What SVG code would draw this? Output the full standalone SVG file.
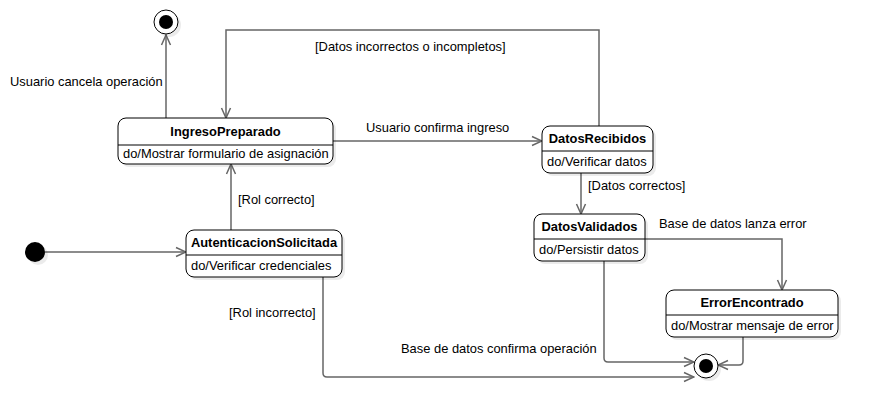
<svg xmlns="http://www.w3.org/2000/svg" width="878" height="419" viewBox="0 0 878 419">
<style>
text{font-family:"Liberation Sans",Arial,sans-serif;font-size:12.9px;fill:#000}
.t{font-weight:bold;text-anchor:middle}
.box{fill:#fff;stroke:#000;stroke-width:1}
.sh{fill:#000;fill-opacity:0.08;stroke:none}
.div{stroke:#000;stroke-width:1}
.c{fill:none;stroke:#666;stroke-width:1.5;marker-end:url(#a)}
</style>
<defs>
<marker id="a" markerUnits="userSpaceOnUse" markerWidth="12" markerHeight="12" viewBox="0 0 12 12" refX="11" refY="6" orient="auto">
<path d="M1,1.5 L11,6 L1,10.5" fill="none" stroke="#666" stroke-width="1.5"/>
</marker>
</defs>
<rect width="878" height="419" fill="#fff"/>
<g id="connectors">
<path class="c" d="M45,252 H186"/>
<path class="c" d="M231,230 V164"/>
<path class="c" d="M166,118 V35"/>
<path class="c" d="M333,141 H542"/>
<path class="c" d="M599,126 V30 H226 V118"/>
<path class="c" d="M581,173 V214"/>
<path class="c" d="M645,239 H782 V290"/>
<path class="c" d="M604,261 V358 Q604,362 608,362 H694"/>
<path class="c" d="M743,337 V361 Q743,365 739,365 H718"/>
<path class="c" d="M323,277 V373 Q323,377 327,377 H694"/>
<text x="315" y="51">[Datos incorrectos o incompletos]</text>
<text x="10" y="86">Usuario cancela operación</text>
<text x="366" y="132">Usuario confirma ingreso</text>
<text x="238" y="204">[Rol correcto]</text>
<text x="229" y="317">[Rol incorrecto]</text>
<text x="588" y="190">[Datos correctos]</text>
<text x="659" y="228">Base de datos lanza error</text>
<text x="401" y="353">Base de datos confirma operación</text>
</g>
<g id="initial">
<circle cx="38" cy="255" r="10" class="sh"/>
<circle cx="35" cy="252" r="10" fill="#000"/>
</g>
<g id="final-top">
<circle cx="169" cy="25" r="12" class="sh"/>
<circle cx="166" cy="22" r="12" fill="#fff" stroke="#000"/>
<circle cx="166" cy="22" r="7" fill="#000"/>
</g>
<g id="final-bottom">
<circle cx="709" cy="369" r="12" class="sh"/>
<circle cx="706" cy="366" r="12" fill="#fff" stroke="#000"/>
<circle cx="706" cy="366" r="7" fill="#000"/>
</g>
<g id="IngresoPreparado">
<rect x="121" y="121" width="215" height="46" rx="8" class="sh"/>
<rect x="118" y="118" width="215" height="46" rx="8" class="box"/>
<line x1="118" y1="145" x2="333" y2="145" class="div"/>
<text x="225.5" y="136" class="t">IngresoPreparado</text>
<text x="123" y="158">do/Mostrar formulario de asignación</text>
</g>
<g id="AutenticacionSolicitada">
<rect x="189" y="233" width="156" height="47" rx="8" class="sh"/>
<rect x="186" y="230" width="156" height="47" rx="8" class="box"/>
<line x1="186" y1="255" x2="342" y2="255" class="div"/>
<text x="264" y="247" class="t">AutenticacionSolicitada</text>
<text x="191" y="270">do/Verificar credenciales</text>
</g>
<g id="DatosRecibidos">
<rect x="545" y="129" width="111" height="47" rx="8" class="sh"/>
<rect x="542" y="126" width="111" height="47" rx="8" class="box"/>
<line x1="542" y1="151" x2="653" y2="151" class="div"/>
<text x="597.5" y="143" class="t">DatosRecibidos</text>
<text x="547" y="166">do/Verificar datos</text>
</g>
<g id="DatosValidados">
<rect x="537" y="217" width="111" height="47" rx="8" class="sh"/>
<rect x="534" y="214" width="111" height="47" rx="8" class="box"/>
<line x1="534" y1="239" x2="645" y2="239" class="div"/>
<text x="589.5" y="231" class="t">DatosValidados</text>
<text x="539" y="254">do/Persistir datos</text>
</g>
<g id="ErrorEncontrado">
<rect x="669" y="293" width="172" height="47" rx="8" class="sh"/>
<rect x="666" y="290" width="172" height="47" rx="8" class="box"/>
<line x1="666" y1="315" x2="838" y2="315" class="div"/>
<text x="752" y="307" class="t">ErrorEncontrado</text>
<text x="671" y="330">do/Mostrar mensaje de error</text>
</g>
</svg>
